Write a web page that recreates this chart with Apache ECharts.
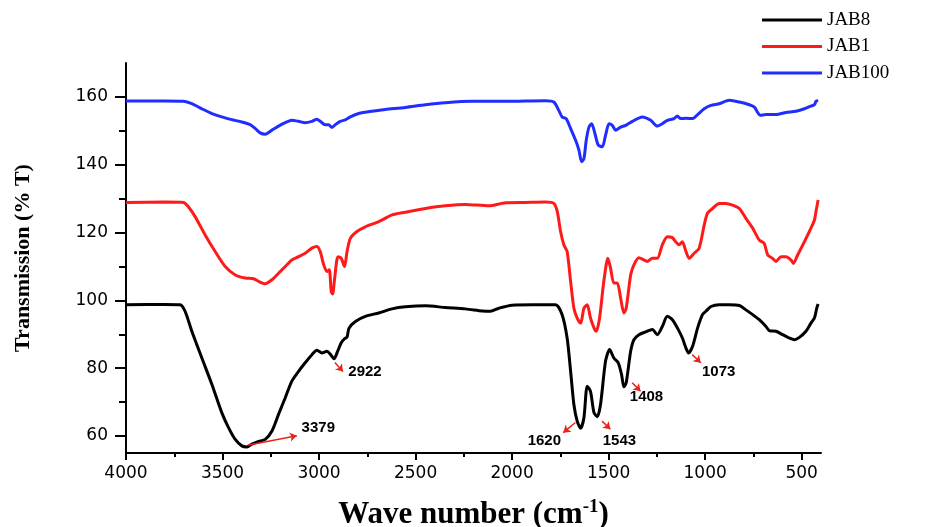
<!DOCTYPE html>
<html>
<head>
<meta charset="utf-8">
<script src="https://cdn.jsdelivr.net/npm/echarts@6/dist/echarts.min.js"></script>
<style>
html,body{margin:0;padding:0;background:#fff;}
#chart{width:931px;height:527px;}
</style>
</head>
<body>
<div id="chart"></div>
<script>
// ---- Data (wave number in cm^-1, transmission in % T) ----
const seriesNames = ['JAB8', 'JAB1', 'JAB100'];

const jab8Wn = [4000,3800,3720,3694,3659,3607,3555,3504,3469,3434,3400,3374,3348,3313,3279,3244,3210,3175,3141,3106,3072,3037,3011,2985,2959,2940,2922,2905,2885,2868,2855,2845,2812,2760,2691,2622,2553,2449,2346,2242,2155,2112,2069,2000,1896,1775,1741,1715,1697,1680,1663,1645,1628,1611,1594,1576,1559,1542,1516,1495,1473,1450,1433,1421,1409,1386,1369,1343,1308,1274,1248,1222,1196,1170,1144,1118,1100,1086,1065,1039,1014,996,970,927,875,823,789,754,720,685,668,633,599,564,538,512,478,452,434,422,415];
const jab8T  = [98.7,98.8,98.7,96.8,90.9,83.0,75.2,66.9,62.5,59.0,57.1,56.8,57.6,58.4,59.0,61.5,66.4,71.3,76.2,79.1,81.6,84.0,85.3,84.5,85.0,84.0,82.8,84.8,87.5,88.7,89.2,91.8,93.8,95.3,96.3,97.5,98.1,98.4,97.9,97.5,96.9,96.8,97.7,98.6,98.7,98.7,95.8,88.9,79.1,69.3,64.4,62.3,65.4,74.7,73.2,66.9,65.7,69.3,82.1,85.5,83.0,81.6,78.1,74.5,75.7,85.0,88.4,89.9,90.7,91.4,89.9,92.3,95.3,94.3,91.9,88.9,86.0,84.5,86.5,91.9,95.8,96.8,98.2,98.7,98.7,98.5,97.2,95.8,94.3,92.3,91.1,90.9,89.9,88.9,88.4,89.1,90.9,93.3,94.8,97.7,98.9];

const jab1Wn = [4000,3800,3702,3677,3642,3590,3538,3486,3434,3383,3339,3313,3279,3244,3210,3175,3141,3106,3072,3037,3011,2994,2976,2959,2947,2937,2930,2919,2902,2885,2868,2855,2838,2804,2760,2691,2622,2553,2449,2346,2242,2121,2034,1931,1827,1784,1766,1749,1732,1715,1697,1680,1663,1645,1628,1611,1594,1576,1564,1547,1525,1504,1490,1473,1455,1438,1421,1409,1386,1369,1343,1317,1300,1274,1248,1222,1196,1170,1153,1135,1118,1100,1083,1057,1031,1005,988,962,927,893,858,823,789,754,720,694,676,651,633,607,581,555,543,521,486,452,434,426,415];
const jab1T  = [128.9,129.0,128.9,127.6,124.7,119.3,114.4,110.0,107.5,106.6,106.4,105.6,104.9,106.1,108.0,110.0,111.9,112.9,113.9,115.4,115.9,114.4,110.5,108.5,109.0,102.6,101.9,106.6,112.9,112.4,110.0,114.4,118.3,120.3,121.7,123.2,125.2,126.0,127.1,127.9,128.3,127.9,128.8,128.9,129.0,128.6,126.2,120.3,116.4,114.4,105.6,97.7,94.8,93.3,97.7,98.7,94.8,91.9,90.9,94.8,105.6,112.4,109.5,105.1,105.1,100.7,96.3,97.7,107.5,110.5,112.6,111.9,111.5,112.4,112.4,116.4,118.8,118.5,117.3,116.4,117.3,114.5,112.4,113.9,115.4,122.2,125.7,127.1,128.6,128.6,128.1,127.1,124.2,121.3,117.8,116.8,113.4,112.4,111.5,112.9,112.9,111.9,110.9,113.4,117.3,121.3,123.7,126.2,129.6];

const jab100Wn = [4000,3800,3702,3659,3607,3555,3504,3452,3400,3357,3331,3305,3279,3244,3210,3175,3141,3106,3072,3037,3011,2994,2968,2950,2933,2916,2890,2864,2838,2795,2726,2657,2553,2449,2346,2207,2034,1827,1784,1758,1741,1720,1697,1671,1654,1640,1628,1616,1602,1588,1571,1554,1533,1516,1498,1481,1464,1438,1412,1377,1326,1282,1248,1222,1196,1161,1144,1127,1100,1065,1039,1005,970,927,875,823,771,745,728,716,685,633,581,529,486,452,434,426,415];
const jab100T  = [158.8,158.8,158.7,158.0,156.5,155.1,154.1,153.3,152.6,151.8,150.7,149.4,149.0,150.2,151.4,152.4,153.1,152.8,152.4,152.8,153.4,152.8,151.8,151.8,151.0,151.8,152.8,153.2,154.1,155.1,155.8,156.3,156.9,157.7,158.3,158.7,158.7,158.9,158.5,156.0,154.1,153.6,150.7,147.2,144.3,140.9,141.8,147.2,151.1,152.1,149.2,145.8,145.3,148.7,152.1,151.6,150.2,151.1,151.6,152.8,154.1,153.1,151.4,152.1,153.1,153.6,154.4,153.6,153.7,153.6,154.8,156.5,157.5,158.0,159.0,158.5,157.7,157.0,155.4,154.6,154.8,154.8,155.4,155.8,156.5,157.3,157.7,158.7,159.0];

// Axis ticks
const xMajorTicks = [4000,3500,3000,2500,2000,1500,1000,500];
const xMinorTicks = [3750,3250,2750,2250,1750,1250,750];
const yMajorTicks = [60,80,100,120,140,160];
const yMinorTicks = [70,90,110,130,150];

// Peak annotations
const peakLabels   = ['3379','2922','1620','1543','1408','1073'];
const peakLabelPos = [[3004,62.3],[2762,79.0],[1833,58.7],[1444,58.7],[1304,71.5],[930,79.0]];
const arrowStart   = [[3370,57.3],[2918,81.7],[1672,64.0],[1534,64.4],[1378,75.7],[1067,84.0]];
const arrowEnd     = [[3115,60.1],[2876,79.0],[1735,61.0],[1491,62.0],[1335,73.2],[1023,81.6]];

// ---- Build ----
const colors = ['#000000', '#ff1a1a', '#1f2dff'];
function pairs(xs, ys){ return xs.map((x,i)=>[x, ys[i]]); }
const lineData = [pairs(jab8Wn, jab8T), pairs(jab1Wn, jab1T), pairs(jab100Wn, jab100T)];

const chart = echarts.init(document.getElementById('chart'));
const axisColor = '#000';
const plain = v => String(v);

const option = {
  animation: false,
  backgroundColor: '#fff',
  grid: { left: 126, right: 110, top: 63, bottom: 74, containLabel: false, outerBoundsMode: 'none' },
  legend: {
    data: seriesNames,
    orient: 'vertical',
    left: 757, top: 5,
    icon: 'rect',
    itemWidth: 60, itemHeight: 3, itemGap: 6.5,
    textStyle: { fontFamily: 'Liberation Serif', fontSize: 19, color: '#000', lineHeight: 20 }
  },
  xAxis: [
    {
      type: 'value', min: 400, max: 4000, inverse: true, position: 'bottom',
      name: '{a|Wave number (cm}{s|-1}{a|)}',
      nameLocation: 'middle', nameGap: 45,
      nameTextStyle: {
        rich: {
          a: { fontFamily: 'Liberation Serif', fontWeight: 'bold', fontSize: 31, color: '#000', lineHeight: 34 },
          s: { fontFamily: 'Liberation Serif', fontWeight: 'bold', fontSize: 19, color: '#000', lineHeight: 19, verticalAlign: 'top' }
        }
      },
      axisLine: { show: true, lineStyle: { color: axisColor, width: 2 } },
      axisTick: { show: true, customValues: xMajorTicks, length: 7, lineStyle: { color: axisColor, width: 2 } },
      axisLabel: { customValues: xMajorTicks, formatter: plain, margin: 12, fontFamily: 'DejaVu Sans', fontSize: 17, color: '#000' },
      splitLine: { show: false }
    },
    {
      type: 'value', min: 400, max: 4000, inverse: true, position: 'bottom',
      axisLine: { show: false },
      axisTick: { show: true, inside: false, customValues: xMinorTicks, length: 4, lineStyle: { color: axisColor, width: 2 } },
      axisLabel: { show: false },
      splitLine: { show: false }
    }
  ],
  yAxis: [
    {
      type: 'value', min: 55, max: 170, position: 'left',
      name: 'Transmission (% T)', nameLocation: 'middle', nameGap: 92,
      nameTextStyle: { fontFamily: 'Liberation Serif', fontWeight: 'bold', fontSize: 22, color: '#000' },
      axisLine: { show: true, lineStyle: { color: axisColor, width: 2 } },
      axisTick: { show: true, customValues: yMajorTicks, length: 11, lineStyle: { color: axisColor, width: 2 } },
      axisLabel: { customValues: yMajorTicks, formatter: plain, margin: 18, fontFamily: 'DejaVu Sans', fontSize: 17, color: '#000' },
      splitLine: { show: false }
    },
    {
      type: 'value', min: 55, max: 170, position: 'left',
      axisLine: { show: false },
      axisTick: { show: true, customValues: yMinorTicks, length: 7, lineStyle: { color: axisColor, width: 2 } },
      axisLabel: { show: false },
      splitLine: { show: false }
    }
  ],
  series: [
    ...seriesNames.map((name, i) => ({
      name, type: 'line', xAxisIndex: 0, yAxisIndex: 0,
      data: lineData[i], symbol: 'none', smooth: 0.25,
      lineStyle: { color: colors[i], width: 3 },
      itemStyle: { color: colors[i] },
      z: 3 - i
    })),
    {
      name: 'peaks', type: 'scatter', xAxisIndex: 0, yAxisIndex: 0,
      symbol: 'circle', symbolSize: 1, itemStyle: { color: 'rgba(0,0,0,0)' }, silent: true, z: 10,
      data: peakLabels.map((t, i) => ({ name: t, value: peakLabelPos[i] })),
      label: {
        show: true, position: 'inside', formatter: '{b}', opacity: 1,
        fontFamily: 'Liberation Sans', fontWeight: 'bold', fontSize: 15, color: '#000000'
      },
      markLine: {
        silent: true, animation: false,
        symbol: ['none', 'arrow'], symbolSize: 7,
        lineStyle: { color: '#e8231b', width: 1.5, type: 'solid' },
        label: { show: false },
        data: arrowStart.map((s, i) => [{ coord: s }, { coord: arrowEnd[i] }])
      }
    }
  ]
};
chart.setOption(option);
</script>
</body>
</html>
